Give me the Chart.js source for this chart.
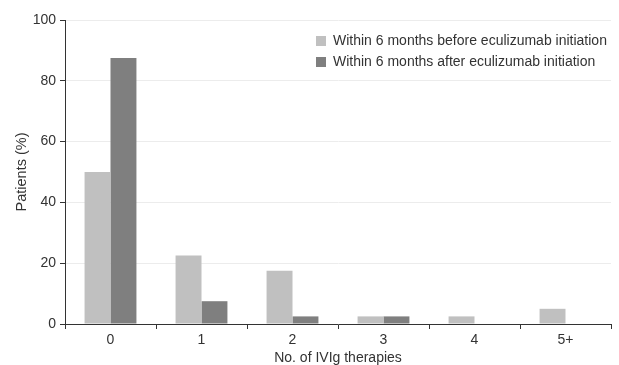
<!DOCTYPE html>
<html>
<head>
<meta charset="utf-8">
<script src="https://cdn.jsdelivr.net/npm/chart.js@4.4.0/dist/chart.umd.min.js"></script>
<style>
  html, body { margin: 0; padding: 0; background: #fff; }
  #wrap { width: 619px; height: 365px; position: relative; }
</style>
</head>
<body>
<div id="wrap"><canvas id="chart" width="619" height="365"></canvas></div>
<script>
// data
const categories = ['0', '1', '2', '3', '4', '5+'];
const beforeValues = [50, 22.5, 17.5, 2.5, 2.5, 5];
const afterValues = [87.5, 7.5, 2.5, 2.5, 0, 0];
const seriesNames = ['Within 6 months before eculizumab initiation', 'Within 6 months after eculizumab initiation'];
const yTicks = [0, 20, 40, 60, 80, 100];

const FONT = 'Liberation Sans, Arial, sans-serif';
const TEXT = '#333';

// legend drawn inside the plot, top right
const boxLegend = {
  id: 'boxLegend',
  afterDraw(chart) {
    const ctx = chart.ctx;
    ctx.save();
    ctx.font = '14px ' + FONT;
    ctx.textBaseline = 'middle';
    chart.data.datasets.forEach((ds, i) => {
      const y = 41 + i * 21;
      ctx.fillStyle = ds.backgroundColor;
      ctx.fillRect(316, y - 5, 10, 10);
      ctx.fillStyle = TEXT;
      ctx.fillText(ds.label, 333, y);
    });
    ctx.restore();
  }
};

const ctx = document.getElementById('chart').getContext('2d');
new Chart(ctx, {
  type: 'bar',
  data: {
    labels: categories,
    datasets: [
      { label: seriesNames[0], data: beforeValues, backgroundColor: '#c0c0c0' },
      { label: seriesNames[1], data: afterValues, backgroundColor: '#7f7f7f' }
    ]
  },
  options: {
    responsive: false,
    animation: false,
    layout: { padding: { top: 20, right: 8, left: 0, bottom: 0 } },
    datasets: { bar: { categoryPercentage: 0.57, barPercentage: 1.0 } },
    plugins: {
      legend: { display: false },
      tooltip: { enabled: false }
    },
    scales: {
      x: {
        grid: { drawOnChartArea: false, tickColor: '#333', tickLength: 5, offset: true },
        border: { color: '#333', width: 1 },
        ticks: { color: TEXT, font: { family: FONT, size: 14 }, padding: 3 },
        title: { display: true, text: 'No. of IVIg therapies', color: TEXT, font: { family: FONT, size: 14, lineHeight: 1 }, padding: { top: 0, bottom: 0 } },
        afterFit(scale) { scale.height = 41; }
      },
      y: {
        min: 0,
        max: 100,
        afterBuildTicks(scale) { scale.ticks = yTicks.map(v => ({ value: v })); },
        grid: { color: '#ececec', tickColor: '#333', tickLength: 5 },
        border: { color: '#333', width: 1 },
        ticks: { color: TEXT, font: { family: FONT, size: 14 }, padding: 4 },
        title: { display: true, text: 'Patients (%)', color: TEXT, font: { family: FONT, size: 14.5, lineHeight: 1 }, padding: { top: 15, bottom: 0 } },
        afterFit(scale) { scale.width = 65; }
      }
    }
  },
  plugins: [boxLegend]
});
</script>
</body>
</html>
